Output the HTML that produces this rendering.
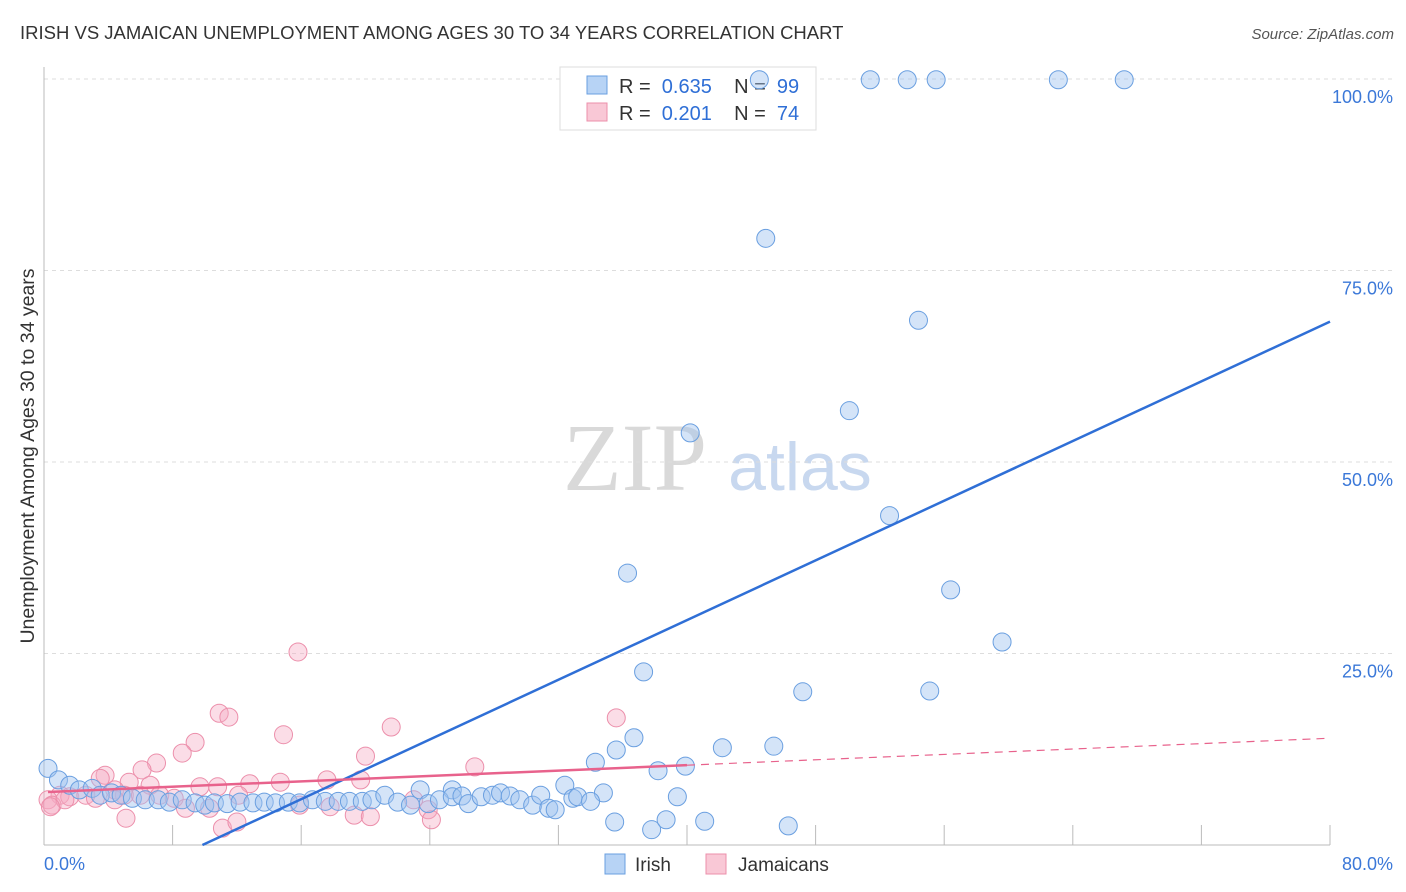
<!DOCTYPE html>
<html><head><meta charset="utf-8"><style>
body{margin:0;background:#fff;font-family:"Liberation Sans",sans-serif;}
svg{display:block}
</style></head><body>
<svg id="chart" width="1406" height="892">
<text x="20" y="39" font-size="18.5" fill="#333">IRISH VS JAMAICAN UNEMPLOYMENT AMONG AGES 30 TO 34 YEARS CORRELATION CHART</text>
<text x="1394" y="39" font-size="15" fill="#555" font-style="italic" text-anchor="end">Source: ZipAtlas.com</text>
<text x="635" y="490" font-size="96" fill="#d9d9d9" font-family="Liberation Serif,serif" text-anchor="middle">ZIP</text>
<text x="800" y="490" font-size="68" fill="#c8d8ef" text-anchor="middle">atlas</text>
<text transform="translate(34,456) rotate(-90)" font-size="19.5" fill="#333" text-anchor="middle">Unemployment Among Ages 30 to 34 years</text>
<g id="grid"></g>
<g>
<rect x="560" y="67" width="256" height="63" fill="#fff" stroke="#ddd"/>
<rect x="587" y="76" width="20" height="18" fill="#b7d3f5" stroke="#6a9fe0"/>
<rect x="587" y="103" width="20" height="18" fill="#f9c8d6" stroke="#ec8fab"/>
<text x="619" y="93" font-size="20" fill="#333" xml:space="preserve">R =  <tspan fill="#2f6fd6">0.635</tspan>    N =  <tspan fill="#2f6fd6">99</tspan></text>
<text x="619" y="120" font-size="20" fill="#333" xml:space="preserve">R =  <tspan fill="#2f6fd6">0.201</tspan>    N =  <tspan fill="#2f6fd6">74</tspan></text>
</g>
<g id="marks"></g>
<g>
<rect x="605" y="854" width="20" height="20" fill="#b7d3f5" stroke="#6a9fe0"/>
<text x="635" y="871" font-size="19" fill="#333">Irish</text>
<rect x="706" y="854" width="20" height="20" fill="#f9c8d6" stroke="#ec8fab"/>
<text x="738" y="871" font-size="19" fill="#333">Jamaicans</text>
</g>
</svg>
<script>
const irishX=[44.5,51.4,53.7,55.5,63.1,67.2,44.9,54.4,50.1,40.2,52.6,36.3,56.4,59.6,37.3,47.2,55.1,36.7,35.6,34.3,42.2,45.4,39.9,38.2,32.4,39.4,34.8,35.5,37.8,38.7,41.1,46.3,23.4,25.4,
0.25,0.9,1.6,2.2,3,3.5,4.2,4.8,5.5,6.3,7.1,7.8,8.6,9.4,10,10.6,11.4,12.2,13,13.7,14.4,15.2,15.9,16.7,17.5,18.3,19,19.8,20.4,21.2,22,22.8,23.9,24.6,25.4,26,26.4,27.2,27.9,28.4,29,29.6,30.4,30.9,31.4,31.8,32.9,33.2,34];
const irishY=[99.9,99.9,99.9,99.9,99.9,99.9,79.2,68.5,56.7,53.8,43.0,35.5,33.3,26.5,22.6,20.0,20.1,14.0,12.4,10.8,12.7,12.9,10.3,9.7,7.8,6.3,6.8,3.0,2.0,3.3,3.1,2.5,7.2,7.2,
10,8.5,7.8,7.2,7.4,6.5,6.8,6.5,6.1,5.9,5.9,5.6,5.9,5.5,5.2,5.5,5.4,5.6,5.5,5.6,5.5,5.6,5.5,5.9,5.7,5.7,5.7,5.7,5.9,6.5,5.6,5.2,5.4,5.9,6.3,6.4,5.4,6.3,6.5,6.8,6.4,5.9,5.2,6.5,4.8,4.6,6.1,6.3,5.7];
const jamX=[15.8,10.9,11.5,14.9,21.6,35.6,9.4,8.6,20,7,6.1,26.8,3.8,3.5,5.3,6.6,12.8,14.7,17.6,19.7,9.7,10.8,1,1.6,2.6,3.2,4.4,5,7.2,8.1,0.25,0.5,1.3,4.4,6,8.8,10.3,12.1,5.1,11.1,12,15.9,17.8,19.3,20.3,23,23.9,24.1,0.4];
const jamY=[25.2,17.2,16.7,14.4,15.4,16.6,13.4,12,11.6,10.7,9.8,10.2,9.1,8.7,8.2,7.8,8,8.2,8.5,8.5,7.6,7.6,6.5,6.3,6.5,6.1,7.2,6.5,6.5,6.1,5.9,5.2,5.9,5.9,6.5,4.8,4.8,6.5,3.5,2.2,3,5.2,5,3.9,3.7,5.9,4.6,3.3,5];
const yTicks=[25,50,75,100];
const yTickLabels=["25.0%","50.0%","75.0%","100.0%"];
const xTicks=[8,16,24,32,40,48,56,64,72,80];
const irishFit=[0.974,-9.6];
const jamFit=[0.088,6.9];
const X0=44,X1=1330,Y0=845,Y100=79;
const sx=v=>X0+(v/80)*(X1-X0);
const sy=v=>Y0-(v/100)*(Y0-Y100);
const NS="http://www.w3.org/2000/svg";
function mk(tag,attrs,parent){const e=document.createElementNS(NS,tag);for(const k in attrs)e.setAttribute(k,attrs[k]);parent.appendChild(e);return e;}
const grid=document.getElementById('grid'),marks=document.getElementById('marks');
yTicks.forEach((t,i)=>{
  const g=mk('line',{x1:X0,x2:1394,y1:sy(t),y2:sy(t),stroke:'#ddd','stroke-dasharray':'4,4'},grid);
  
  
  const l=mk('text',{x:1393,y:sy(t)+24,'font-size':18,fill:'#3b78d8','text-anchor':'end'},grid);
  l.textContent=yTickLabels[i];
  
  
});
const ax=mk('line',{x1:X0,x2:X1,y1:Y0,y2:Y0,stroke:'#bbb'},grid);


const ay=mk('line',{x1:X0,x2:X0,y1:67,y2:Y0,stroke:'#bbb'},grid);


xTicks.forEach(t=>{
  const k=mk('line',{x1:sx(t),x2:sx(t),y1:Y0-20,y2:Y0,stroke:'#bbb'},grid);
  
  
});
[[0,'start',44],[80,'end',1393]].forEach(([v,a,x])=>{
  const l=mk('text',{x:x,y:870,'font-size':18,fill:'#3b78d8','text-anchor':a},grid);
  l.textContent=v.toFixed(1)+'%';
  
  
});
jamX.forEach((x,i)=>{
  const c=mk('circle',{cx:sx(x),cy:sy(jamY[i]),r:9,fill:'rgba(246,170,195,0.4)',stroke:'#ec8fab','stroke-width':1},marks);
  
  
});
irishX.forEach((x,i)=>{
  const c=mk('circle',{cx:sx(x),cy:sy(irishY[i]),r:9,fill:'rgba(160,196,240,0.45)',stroke:'#6a9fe0','stroke-width':1},marks);
  
  
});
const bx0=-irishFit[1]/irishFit[0];
const bl=mk('line',{x1:sx(bx0),y1:sy(0),x2:sx(80),y2:sy(irishFit[0]*80+irishFit[1]),stroke:'#2f6fd6','stroke-width':2.5},marks);


const pl=mk('line',{x1:sx(0.25),y1:sy(jamFit[0]*0.25+jamFit[1]),x2:sx(40),y2:sy(jamFit[0]*40+jamFit[1]),stroke:'#e8628c','stroke-width':2.5},marks);


const pd=mk('line',{x1:sx(40),y1:sy(jamFit[0]*40+jamFit[1]),x2:sx(80),y2:sy(jamFit[0]*80+jamFit[1]),stroke:'#e8628c','stroke-width':1.2,'stroke-dasharray':'8,6'},marks);


</script>
</body></html>
